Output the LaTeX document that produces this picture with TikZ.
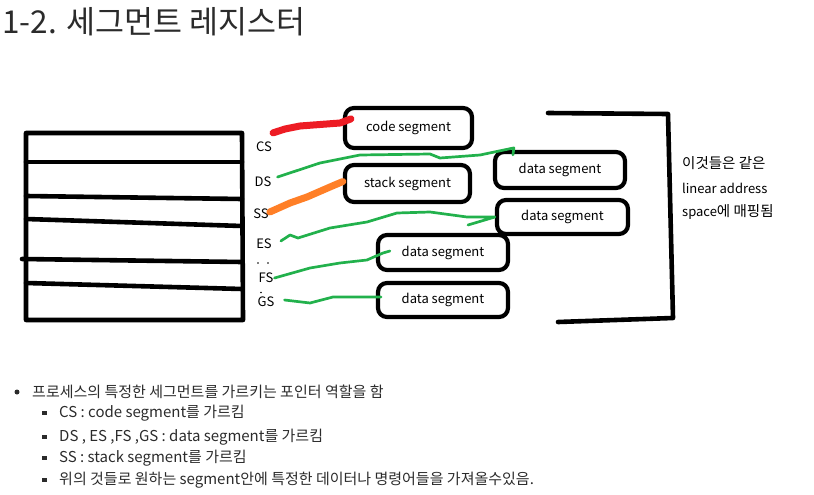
\documentclass[tikz,border=0pt]{standalone}
\usepackage{fontspec}
\setmainfont{Noto Sans CJK KR}
\definecolor{redpen}{HTML}{ED1C24}
\definecolor{orangepen}{HTML}{FF7F27}
\definecolor{greenpen}{HTML}{22B14C}
\definecolor{ink}{HTML}{2B2B2B}
\tikzset{
  pen/.style={line width=4.6pt,line cap=round,line join=round},
  segbox/.style={draw,line width=4.2pt,rounded corners=9pt,inner sep=0pt,font=\fontsize{13}{15}\selectfont},
  reglab/.style={font=\fontsize{13}{15}\selectfont,inner sep=1pt},
  wire/.style={greenpen,line width=2.7pt,line cap=round,line join=round},
  fatwire/.style={line width=7pt,line cap=round,line join=round},
  listtext/.style={anchor=west,inner sep=0pt,text=ink,font=\fontsize{15}{17}\selectfont}
}
\begin{document}
\begin{tikzpicture}[x=1pt,y=-1pt]
\useasboundingbox (0,0) rectangle (814,495);
\node[anchor=west,inner sep=0pt,text=ink,font=\fontsize{31.5}{34}\selectfont] (title) at (2,22) {1-2. 세그먼트 레지스터};
% register table
\draw[pen] (26,133) -- (242,133) -- (243,320) -- (26,320) -- cycle;
\foreach \a/\b/\s in {162/162/26,196/199/26,219/226/26,259/262/22,283/289/26}
  \draw[pen] (\s,\a) -- (242,\b);
\foreach \n/\x/\y in {CS/264/147,DS/263/182,SS/261/214,ES/264/244,FS/266/278,GS/266/302}
  \node[reglab] (\n) at (\x,\y) {\n};
\fill (258,263) circle (0.8pt) (268,263) circle (0.8pt) (261,292.5) circle (0.8pt);
% segments
\node[segbox,minimum width=127pt,minimum height=40pt] (code) at (408.5,128) {code segment};
\node[segbox,minimum width=125pt,minimum height=37pt] (stack) at (407.5,183.5) {stack segment};
\node[segbox,minimum width=130pt,minimum height=36pt] (dataA) at (560,170) {data segment};
\node[segbox,minimum width=131pt,minimum height=34pt] (dataB) at (562.5,217) {data segment};
\node[segbox,minimum width=130pt,minimum height=35pt] (dataC) at (443,252.5) {data segment};
\node[segbox,minimum width=130pt,minimum height=34pt] (dataD) at (443,300) {data segment};
% pointers
\draw[fatwire,redpen] ([yshift=8pt]CS.north east) -- (285,129) -- (300,126) -- (340,123)
  -- ([shift={(8pt,-13pt)}]code.north west);
\draw[fatwire,orangepen] ([yshift=2pt]SS.east) -- (290,203) -- (307,197) -- (330,187)
  -- ([yshift=2pt]stack.west);
\draw[wire] ([shift={(5pt,5pt)}]DS.east) -- (320,163) -- (360,155) -- (430,154) -- (440,158)
  -- (480,155) -- ([shift={(21pt,2pt)}]dataA.north west) -- ([shift={(20pt,-5pt)}]dataA.north west);
\draw[wire] ([shift={(8pt,3pt)}]ES.east) -- (290,235) -- (298,238) -- (330,228) -- (367,222)
  -- (397,213) -- (430,212) -- (467,217) -- (dataB.west) -- (468,225);
\draw[wire] (FS.east) -- (310,268) -- (340,263) -- (367,260) -- (383,253)
  -- ([shift={(14pt,1.5pt)}]dataC.west);
\draw[wire] ([shift={(9pt,2pt)}]GS.east) -- (310,303) -- (333,297) -- ([shift={(5pt,3pt)}]dataD.west);
% linear address space
\draw[pen] (548,113) -- (668,114) -- (673,318) -- (558,322);
\node[anchor=west,inner sep=0pt,font=\fontsize{14.5}{16}\selectfont] (sameA) at (682,163) {이것들은 같은};
\node[anchor=west,inner sep=0pt,font=\fontsize{13}{15}\selectfont] (sameB) at (682,188) {linear address};
\node[anchor=west,inner sep=0pt,font=\fontsize{13}{15}\selectfont] (sameC) at (682,212) {space{\fontsize{14.5}{16}\selectfont 에 매핑됨}};
% notes
\fill[ink] (17,392) circle (2.5pt);
\node[listtext] (role) at (32,392) {프로세스의 특정한 세그먼트를 가르키는 포인터 역할을 함};
\foreach \i/\y/\t in {1/413/{CS : code segment를 가르킴},2/437/{DS , ES ,FS ,GS : data segment를 가르킴},
  3/458/{SS : stack segment를 가르킴},4/480/{위의 것들로 원하는 segment안에 특정한 데이터나 명령어들을 가져올수있음.}}{
  \fill[ink] (42,\y-2.3) rectangle (46.5,\y+2.3);
  \node[listtext] (item\i) at (59,\y) {\t};
}
\end{tikzpicture}
\end{document}
